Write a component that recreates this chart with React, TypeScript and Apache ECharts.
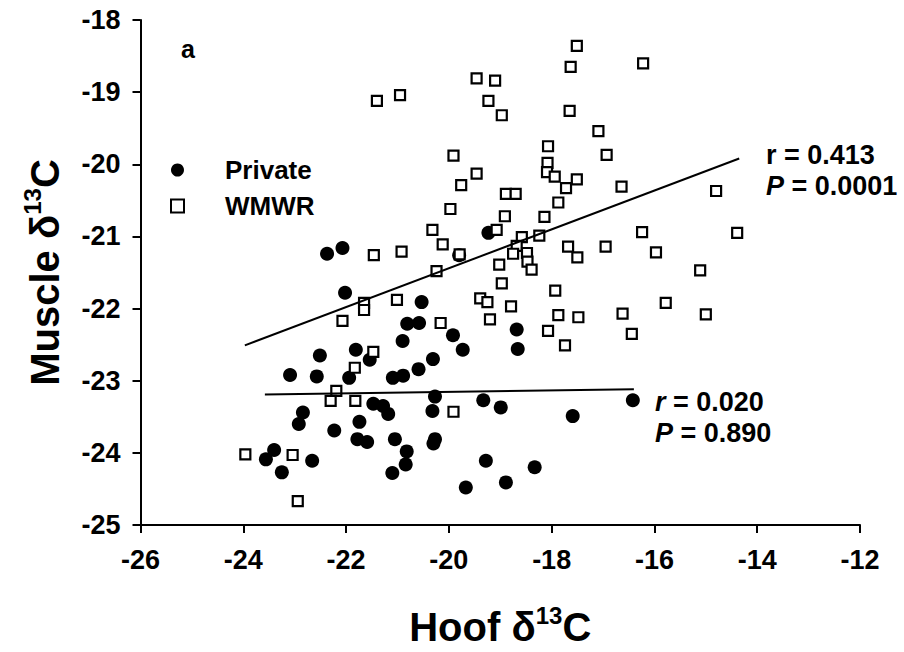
import React, { useEffect, useRef } from "react";
import * as echarts from "echarts";

// Hoof δ13C (x) and Muscle δ13C (y) for Private ranch animals
const privateHoof = [
  -22.37, -22.07, -22.02, -20.53, -20.81, -20.58, -20.90, -22.51, -21.81, -21.54,
  -23.09, -22.57, -21.94, -21.09, -20.89, -20.59, -20.31, -19.92, -19.73, -18.68,
  -18.66, -19.23, -21.47, -21.28, -21.18, -22.84, -22.92, -22.23, -21.74, -21.78,
  -21.59, -21.05, -20.82, -20.84, -21.10, -23.40, -23.56, -22.66, -23.25, -20.27,
  -20.32, -19.33, -18.99, -17.59, -16.42, -20.27, -20.30, -19.28, -18.33, -19.67,
  -18.89, -19.80,
];
const privateMuscle = [
  -21.24, -21.16, -21.78, -21.91, -22.21, -22.20, -22.45, -22.65, -22.57, -22.71,
  -22.92, -22.94, -22.96, -22.96, -22.93, -22.84, -22.70, -22.37, -22.57, -22.29,
  -22.56, -20.95, -23.32, -23.35, -23.46, -23.44, -23.60, -23.69, -23.57, -23.81,
  -23.85, -23.81, -23.98, -24.16, -24.28, -23.96, -24.09, -24.11, -24.27, -23.22,
  -23.42, -23.27, -23.37, -23.49, -23.27, -23.81, -23.87, -24.11, -24.20, -24.48,
  -24.41, -21.26,
];

// Hoof δ13C (x) and Muscle δ13C (y) for WMWR animals
const wmwrHoof = [
  -21.40, -20.95, -19.46, -19.10, -19.23, -18.97, -17.51, -17.63, -16.22, -17.65,
  -17.09, -18.07, -16.93, -19.91, -18.08, -18.09, -17.94, -17.51, -17.72, -16.64,
  -19.46, -19.76, -18.89, -18.70, -17.87, -19.97, -18.91, -18.14, -20.32, -19.07,
  -20.12, -18.58, -18.24, -19.79, -18.68, -18.75, -18.48, -19.02, -18.47, -18.39,
  -20.24, -17.68, -17.50, -16.95, -16.24, -15.97, -15.11, -14.80, -14.39, -21.46,
  -20.92, -21.65, -21.65, -21.01, -22.07, -18.97, -17.93, -19.39, -19.25, -18.79,
  -19.20, -17.87, -17.48, -18.07, -17.74, -16.62, -16.44, -15.78, -15.00, -20.16,
  -21.47, -21.83, -22.19, -22.30, -21.82, -19.91, -23.96, -23.04, -22.94,
];
const wmwrMuscle = [
  -19.12, -19.04, -18.81, -18.84, -19.12, -19.32, -18.36, -18.65, -18.60, -19.26,
  -19.54, -19.75, -19.87, -19.88, -19.98, -20.11, -20.17, -20.21, -20.33, -20.31,
  -20.13, -20.29, -20.41, -20.41, -20.53, -20.62, -20.72, -20.73, -20.91, -20.91,
  -21.11, -21.01, -20.99, -21.25, -21.13, -21.24, -21.23, -21.39, -21.35, -21.46,
  -21.48, -21.14, -21.29, -21.14, -20.94, -21.22, -21.47, -20.37, -20.95, -21.26,
  -21.21, -21.92, -22.02, -21.88, -22.17, -21.65, -21.75, -21.86, -21.91, -21.97,
  -22.15, -22.09, -22.12, -22.31, -22.51, -22.07, -22.35, -21.92, -22.08, -22.20,
  -22.60, -22.82, -23.14, -23.28, -23.28, -23.43, -24.02, -24.03, -24.67,
];

// Regression line end points
const wmwrFitX = [-23.97, -14.35];
const wmwrFitY = [-22.51, -19.92];
const privateFitX = [-23.58, -16.40];
const privateFitY = [-23.19, -23.12];

const xTicks = { min: -26, max: -12, interval: 2 };
const yTicks = { min: -25, max: -18, interval: 1 };

const FONT = "'Liberation Sans', Arial, sans-serif";

function zip(xs: number[], ys: number[]) {
  return xs.map((x, i) => [x, ys[i]]);
}

export default function App() {
  const ref = useRef<HTMLDivElement>(null);
  useEffect(() => {
    document.body.style.margin = "0";
    const chart = echarts.init(ref.current!, null, { renderer: "svg" });
    const axisCommon = {
      axisLine: { show: true, lineStyle: { color: "#000", width: 2 } },
      axisTick: { show: true, inside: false, length: 8, lineStyle: { color: "#000", width: 2 } },
      splitLine: { show: false },
      axisLabel: { color: "#000", fontSize: 27, fontWeight: "bold", fontFamily: FONT },
    };
    const nameRich = {
      a: { fontSize: 40, fontWeight: "bold", fontFamily: FONT, color: "#000", lineHeight: 44, verticalAlign: "bottom" },
      s: { fontSize: 24, fontWeight: "bold", fontFamily: FONT, color: "#000", lineHeight: 44, verticalAlign: "top" },
    };
    const statStyle = (text: string) => ({
      text,
      verticalAlign: "middle",
      rich: {
        n: { fontSize: 27, fontWeight: "bold", fontFamily: FONT, fill: "#000" },
        i: { fontSize: 27, fontWeight: "bold", fontStyle: "italic", fontFamily: FONT, fill: "#000" },
      },
    });
    chart.setOption({
      animation: false,
      backgroundColor: "#fff",
      grid: { left: 140.5, right: 44, top: 20, bottom: 127, containLabel: false, outerBoundsMode: "none" },
      legend: {
        orient: "vertical",
        left: 165,
        top: 152,
        itemWidth: 13,
        itemHeight: 13,
        itemGap: 10,
        data: ["Private", "WMWR"],
        textStyle: { fontSize: 26, fontWeight: "bold", fontFamily: FONT, color: "#000", padding: [0, 0, 0, 36] },
      },
      xAxis: {
        type: "value",
        ...xTicks,
        ...axisCommon,
        axisLabel: { ...axisCommon.axisLabel, margin: 21 },
        name: "{a|Hoof δ}{s|13}{a|C}",
        nameLocation: "middle",
        nameGap: 78,
        nameTextStyle: { rich: nameRich },
      },
      yAxis: {
        type: "value",
        ...yTicks,
        ...axisCommon,
        axisLabel: { ...axisCommon.axisLabel, margin: 20 },
        name: "{a|Muscle δ}{s|13}{a|C}",
        nameLocation: "middle",
        nameRotate: 90,
        nameGap: 76,
        nameTextStyle: { rich: nameRich },
      },
      series: [
        {
          name: "Private",
          type: "scatter",
          symbol: "circle",
          symbolSize: 14,
          itemStyle: { color: "#000", opacity: 1 },
          data: zip(privateHoof, privateMuscle),
          z: 2,
        },
        {
          name: "WMWR",
          type: "scatter",
          symbol: "rect",
          symbolSize: 10,
          itemStyle: { color: "#fff", borderColor: "#000", borderWidth: 2.2, opacity: 1 },
          data: zip(wmwrHoof, wmwrMuscle),
          z: 3,
        },
        {
          name: "WMWR fit",
          type: "line",
          data: zip(wmwrFitX, wmwrFitY),
          symbol: "none",
          lineStyle: { color: "#000", width: 2 },
          z: 4,
        },
        {
          name: "Private fit",
          type: "line",
          data: zip(privateFitX, privateFitY),
          symbol: "none",
          lineStyle: { color: "#000", width: 2 },
          z: 4,
        },
      ],
      graphic: [
        {
          type: "text",
          left: 181,
          top: 36,
          style: { text: "a", fontSize: 25, fontWeight: "bold", fontFamily: FONT, fill: "#000" },
        },
        { type: "text", x: 766, y: 155, style: statStyle("{n|r = 0.413}") },
        { type: "text", x: 766, y: 186, style: statStyle("{i|P}{n| = 0.0001}") },
        { type: "text", x: 655, y: 402, style: statStyle("{i|r}{n| = 0.020}") },
        { type: "text", x: 655, y: 433, style: statStyle("{i|P}{n| = 0.890}") },
      ],
    });
    return () => chart.dispose();
  }, []);
  return <div ref={ref} style={{ width: 904, height: 652 }} />;
}
